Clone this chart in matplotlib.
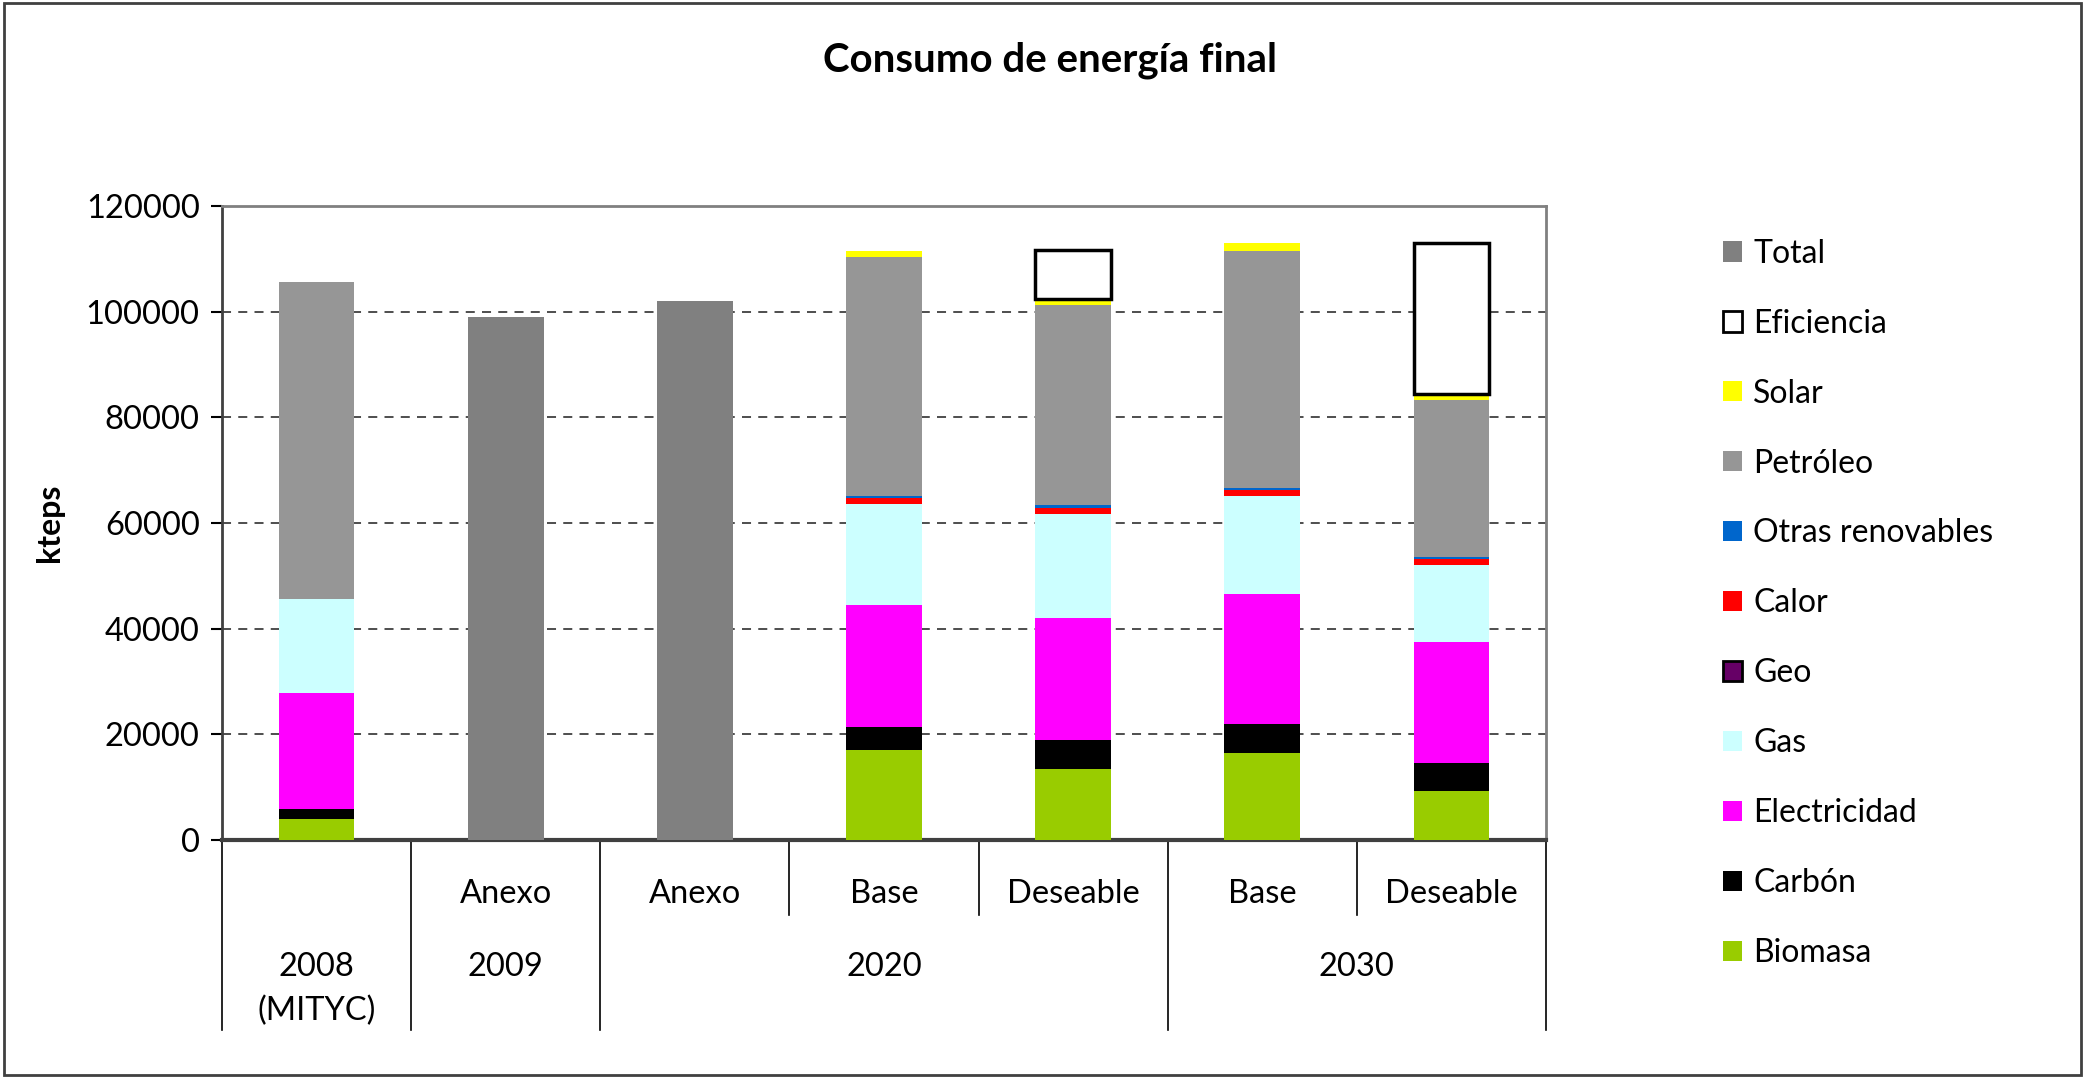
import numpy as np
import matplotlib.pyplot as plt
from matplotlib.patches import Patch, Rectangle

plt.rcParams['font.family'] = ['Lato', 'DejaVu Sans']

sub_labels = ['', 'Anexo', 'Anexo', 'Base', 'Deseable', 'Base', 'Deseable']
years = ['2008', '2009', '2020', '2030']

# stacked series (kteps), one value per column
biomasa = [3900, 0, 0, 16970, 13360, 16390, 9340]
carbon = [2050, 0, 0, 4500, 5650, 5490, 5170]
electricidad = [21900, 0, 0, 23030, 23040, 24760, 23040]
gas = [17800, 0, 0, 19110, 19670, 18520, 14580]
geo = [0, 0, 0, 0, 0, 0, 0]
calor = [0, 0, 0, 1130, 1060, 1060, 1150]
otras = [0, 0, 0, 420, 590, 410, 320]
petroleo = [59900, 0, 0, 45170, 37860, 44830, 29680]
solar = [0, 0, 0, 1130, 1230, 1480, 1060]
eficiencia = [0, 0, 0, 0, 9170, 0, 28600]
total = [0, 98900, 101950, 0, 0, 0, 0]

series = [
    ('Biomasa', biomasa, '#99CC00', 'none'),
    ('Carbón', carbon, '#000000', 'none'),
    ('Electricidad', electricidad, '#FF00FF', 'none'),
    ('Gas', gas, '#CCFFFF', 'none'),
    ('Geo', geo, '#660066', 'black'),
    ('Calor', calor, '#FF0000', 'none'),
    ('Otras renovables', otras, '#0066CC', 'none'),
    ('Petróleo', petroleo, '#969696', 'none'),
    ('Solar', solar, '#FFFF00', 'none'),
    ('Eficiencia', eficiencia, '#FFFFFF', 'black'),
]

W, H = 2085, 1078
fig = plt.figure(figsize=(W / 100, H / 100), dpi=100)
ax = fig.add_axes([222 / W, 1 - 840 / H, (1546 - 222) / W, (840 - 206) / H])

x = np.arange(len(sub_labels))
bw = 0.4
bottom = np.zeros(len(x))
handles = []
for name, vals, col, ec in series:
    vals = np.array(vals, dtype=float)
    nz = vals > 0
    if nz.any():
        lw = 2.5 if ec != 'none' else 0
        ax.bar(x[nz], vals[nz], bw, bottom=bottom[nz], color=col, edgecolor=ec, linewidth=lw, zorder=3)
    bottom += vals
    handles.append(Patch(facecolor=col, edgecolor=ec if ec != 'none' else col,
                         linewidth=2 if ec != 'none' else 0, label=name))
ax.bar(x, total, bw, color='#808080', zorder=3)
handles.append(Patch(facecolor='#808080', label='Total'))

ax.set_xlim(-0.5, 6.5)
ax.set_ylim(0, 120000)
ax.set_yticks(np.arange(0, 120001, 20000))
ax.tick_params(axis='y', labelsize=23.5, length=8, width=1.5, pad=8)
ax.set_xticks([])
for v in range(20000, 120000, 20000):
    ax.axhline(v, color='#404040', ls=(0, (5, 4)), lw=1.3, zorder=1)
ax.spines['top'].set_color('#808080')
ax.spines['right'].set_color('#808080')
ax.spines['top'].set_linewidth(2)
ax.spines['right'].set_linewidth(2)
ax.spines['left'].set_color('#404040')
ax.spines['left'].set_linewidth(2)
ax.spines['bottom'].set_color('#404040')
ax.spines['bottom'].set_linewidth(3)
ax.set_ylabel('kteps', fontsize=23, fontweight='bold', labelpad=16)

# multi-level category axis
trans = ax.get_xaxis_transform()
for xi, lab in zip(x, sub_labels):
    if lab:
        ax.text(xi, -0.085, lab, transform=trans, ha='center', va='center', fontsize=23.5)
year_pos = [0, 1, 3, 5.5]
for xp, yr in zip(year_pos, years):
    ax.text(xp, -0.2, yr, transform=trans, ha='center', va='center', fontsize=23.5)
ax.text(0, -0.27, '(MITYC)', transform=trans, ha='center', va='center', fontsize=23.5)
for b in [-0.5, 0.5, 1.5, 4.5, 6.5]:
    ax.plot([b, b], [0, -0.30], transform=trans, color='black', lw=1.2, clip_on=False)
for b in [2.5, 3.5, 5.5]:
    ax.plot([b, b], [0, -0.118], transform=trans, color='black', lw=1.2, clip_on=False)

fig.text(1050 / W, 1 - 60 / H, 'Consumo de energía final', ha='center', va='center',
         fontsize=29, fontweight='bold')

leg = fig.legend(handles=handles[::-1], loc='upper left', bbox_to_anchor=(1694 / W, 1 - 210 / H),
                 frameon=False, fontsize=23, labelspacing=1.25, handlelength=0.6, handleheight=0.6,
                 handletextpad=0.35)

fig.add_artist(Rectangle((0.002, 0.003), 0.996, 0.994, transform=fig.transFigure, fill=False,
                         edgecolor='#404040', lw=2))

fig.savefig('out.png', dpi=100)
